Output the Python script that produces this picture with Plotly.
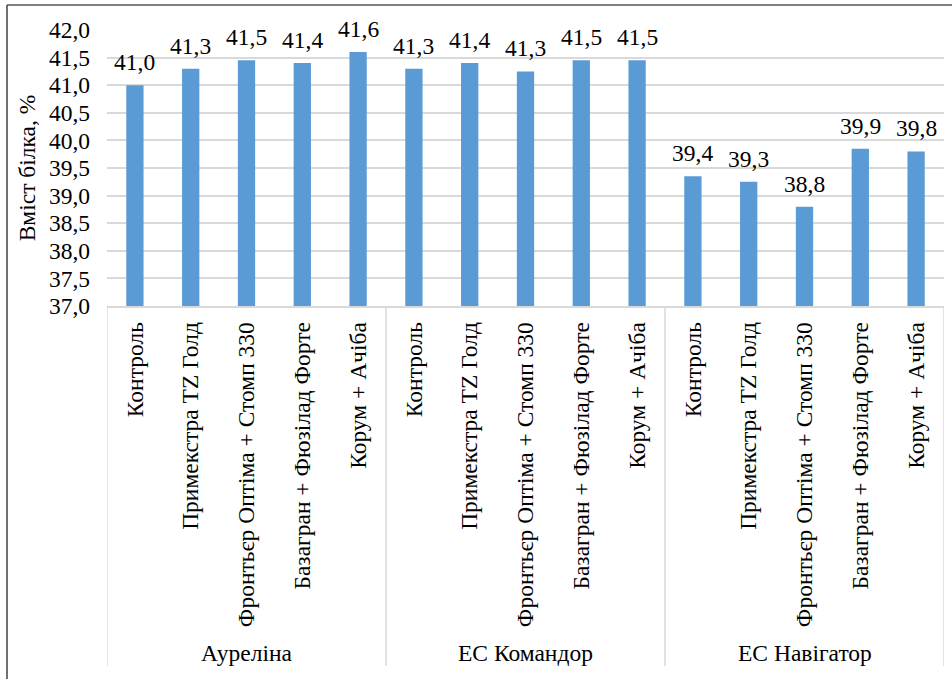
from decimal import Decimal, ROUND_HALF_UP
import plotly.graph_objects as go

groups = ["Ауреліна", "ЕС Командор", "ЕС Навігатор"]
treatments = ["Контроль", "Примекстра TZ Голд", "Фронтьєр Оптіма + Стомп 330",
              "Базагран + Фюзілад Форте", "Корум + Ачіба"]
values_aurelina = [41.0, 41.3, 41.45, 41.4, 41.6]
values_komandor = [41.3, 41.4, 41.25, 41.45, 41.45]
values_navigator = [39.35, 39.25, 38.8, 39.85, 39.8]
y_ticks = [37.0, 37.5, 38.0, 38.5, 39.0, 39.5, 40.0, 40.5, 41.0, 41.5, 42.0]

all_values = [values_aurelina, values_komandor, values_navigator]
yv, labels = [], []
for vals in all_values:
    yv.extend(vals)
    labels.extend(treatments)
xi = list(range(len(yv)))
n_per = len(treatments)


def fmt(v):
    d = Decimal(str(v)).quantize(Decimal("0.1"), rounding=ROUND_HALF_UP)
    return str(d).replace(".", ",")


FONT = "Liberation Serif"
FS = 23.5
GRID = "#d9d9d9"

fig = go.Figure(go.Bar(
    x=xi, y=yv,
    marker=dict(color="#5B9BD5", line=dict(width=0)),
    hovertemplate="%{y:.2f}<extra></extra>",
))

# value labels above bars
for x, v in zip(xi, yv):
    fig.add_annotation(x=x, y=v, text=fmt(v),
                       showarrow=False, yanchor="bottom", yshift=8,
                       font=dict(family=FONT, size=FS, color="#000000"))

fig.update_layout(
    width=952, height=679,
    margin=dict(l=107, r=8, t=30, b=373),
    plot_bgcolor="white", paper_bgcolor="white",
    separators=", ",
    bargap=0.69,
    showlegend=False,
    font=dict(family=FONT, size=FS, color="#000000"),
)
fig.update_yaxes(
    range=[37, 42], tickvals=y_ticks, tickformat=".1f",
    showgrid=True, gridcolor=GRID, gridwidth=1.5,
    showline=False, zeroline=False,
    tickfont=dict(family=FONT, size=FS, color="#000000"),
    ticklabelstandoff=16,
    title=dict(text="Вміст білка, %", font=dict(family=FONT, size=FS), standoff=6),
)
fig.update_xaxes(
    range=[-0.5, len(yv) - 0.5],
    tickvals=xi, ticktext=labels, tickangle=-90,
    showline=True, linecolor=GRID, linewidth=1.5,
    showgrid=False, zeroline=False,
    ticklabelstandoff=5,
    tickfont=dict(family=FONT, size=FS, color="#000000"),
)

# group labels and dividers of the two-level category axis
plot_h = 679 - 30 - 373
div_bottom = -(666 - 306) / plot_h
grp_y = -(653 - 306) / plot_h
for gi, g in enumerate(groups):
    fig.add_annotation(x=gi * n_per + (n_per - 1) / 2, y=grp_y, yref="paper",
                       text=g, showarrow=False, yanchor="middle",
                       font=dict(family=FONT, size=FS, color="#000000"))
for k in range(len(groups) + 1):
    xd = k * n_per - 0.5
    fig.add_shape(type="line", xref="x", yref="paper", x0=xd, x1=xd,
                  y0=0, y1=div_bottom, line=dict(color=GRID, width=1.5))

# outer frame of the chart
fig.add_shape(type="line", xref="paper", yref="paper",
              x0=-100/837, x1=1.02, y0=1 + 25/plot_h, y1=1 + 25/plot_h,
              line=dict(color="#808080", width=2))
fig.add_shape(type="line", xref="paper", yref="paper",
              x0=-100/837, x1=-100/837, y0=1 + 25/plot_h, y1=-1.5,
              line=dict(color="#404040", width=1.5))

fig.write_html("out.html")
